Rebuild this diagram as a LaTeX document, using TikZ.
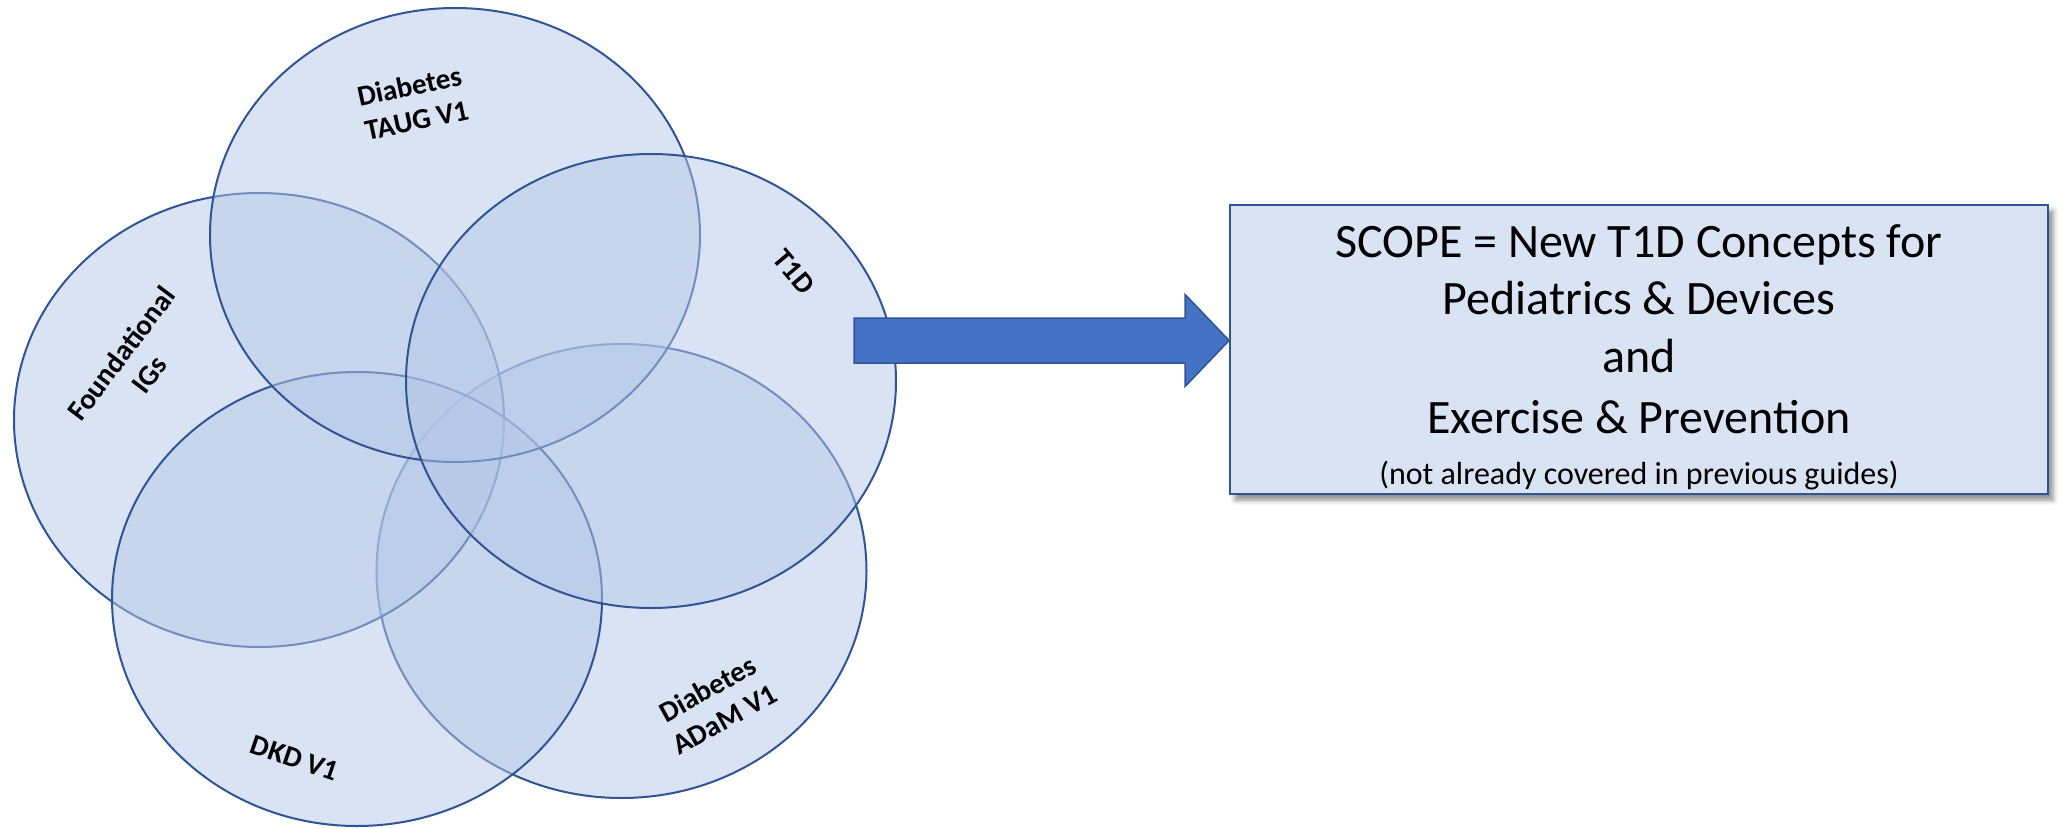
\documentclass[tikz,border=0pt]{standalone}
\usepackage{fontspec}
\setmainfont{Carlito}
\usetikzlibrary{shapes.geometric,shadows.blur,calc}

\definecolor{vennline}{RGB}{47,85,151}
\definecolor{vennfill}{RGB}{180,199,231}
\definecolor{boxfill}{RGB}{218,227,243}
\definecolor{arrowfill}{RGB}{68,114,196}

\tikzset{
  venn/.style={ellipse, draw=vennline, line width=2pt, fill=vennfill,
    fill opacity=0.5, inner sep=0pt,
    minimum width=490pt, minimum height=454pt},
  vennlabel/.style={align=center, text=black,
    font=\fontsize{29}{35}\selectfont\bfseries, inner sep=0pt},
  scopebox/.style={rectangle, draw=vennline, line width=1.75pt, fill=boxfill,
    minimum width=818pt, minimum height=289pt, inner sep=0pt,
    blur shadow={shadow xshift=5pt, shadow yshift=-6pt,
      shadow blur radius=5pt, shadow opacity=45}},
  scopetext/.style={align=center, text=black,
    font=\fontsize{48}{57.6}\selectfont, inner sep=0pt},
  blockarrow/.style={draw=vennline, line width=1.5pt, fill=arrowfill,
    line join=miter}
}

\begin{document}
\begin{tikzpicture}[x=1pt, y=-1pt]
  \useasboundingbox (0,0) rectangle (2062,829);

  % five overlapping sets, lowest first
  \node[venn] (adam) at (621.5,571) {};
  \node[venn] (found) at (259,420) {};
  \node[venn] (dkd) at (357,599) {};
  \node[venn] (taug) at (455,235) {};
  \node[venn] (t1d) at (651,381) {};

  % set names
  \node[vennlabel, rotate=12] (ltaug) at (413,103) {Diabetes\\TAUG V1};
  \node[vennlabel, rotate=53] (lfound) at (135,364) {Foundational\\IGs};
  \node[vennlabel, rotate=-50] (lt1d) at (794,272) {T1D};
  \node[vennlabel, rotate=-19] (ldkd) at (295,758) {DKD V1};
  \node[vennlabel, rotate=29] (ladam) at (716,704) {Diabetes\\ADaM V1};

  % scope box
  \node[scopebox] (scope) at (1639,349.5) {};
  \node[scopetext] (scopetxt) at (1639,357)
    {SCOPE = New T1D Concepts for\\Pediatrics \& Devices\\and\\[4pt]Exercise \& Prevention\\[-7pt]
     {\fontsize{32}{38}\selectfont (not already covered in previous guides)}};

  % block arrow from the sets to the scope box
  \coordinate (tail) at (854,340.5);
  \coordinate (tip) at (scope.west |- tail);
  \draw[blockarrow] ($(tail)+(0,-22.5)$) -- ($(tip)+(-44,-22.5)$)
    -- ($(tip)+(-44,-46)$) -- (tip) -- ($(tip)+(-44,46)$)
    -- ($(tip)+(-44,22.5)$) -- ($(tail)+(0,22.5)$) -- cycle;
\end{tikzpicture}
\end{document}
